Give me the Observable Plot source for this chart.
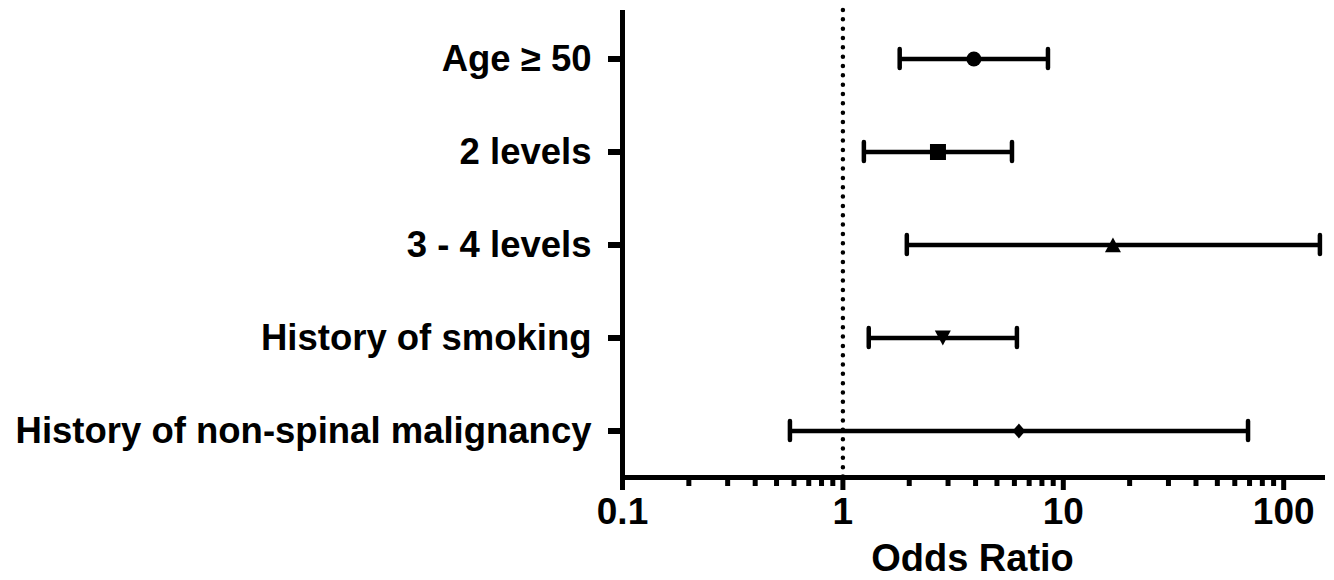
<!DOCTYPE html>
<html>
<head>
<meta charset="utf-8">
<script src="https://cdn.jsdelivr.net/npm/d3@7"></script>
<script src="https://cdn.jsdelivr.net/npm/@observablehq/plot@0.6"></script>
<style>
  html, body { margin: 0; padding: 0; background: #fff; }
  #chart svg { font-family: "Liberation Sans", Arial, sans-serif; }
</style>
</head>
<body>
<div id="chart"></div>
<script>
const labels = ["Age ≥ 50", "2 levels", "3 - 4 levels", "History of smoking", "History of non-spinal malignancy"];
const oddsRatio = [3.93, 2.70, 16.8, 2.84, 6.29];
const lower = [1.81, 1.245, 1.95, 1.31, 0.575];
const upper = [8.52, 5.85, 146, 6.16, 68.9];
const symbolNames = ["circle", "square", "triangle", "triangleDown", "diamond"];
const majorTicks = [0.1, 1, 10, 100];
const minorTicks = [0.2, 0.3, 0.4, 0.5, 0.6, 0.7, 0.8, 0.9, 2, 3, 4, 5, 6, 7, 8, 9, 20, 30, 40, 50, 60, 70, 80, 90];
const xLabel = "Odds Ratio";

const rows = labels.map((label, i) => ({label, or: oddsRatio[i], lo: lower[i], hi: upper[i], sym: symbolNames[i]}));

const R = size => Math.sqrt(size / Math.PI);
const customSymbols = {
  circle: {draw(ctx, size) { const r = R(size); ctx.moveTo(r, 0); ctx.arc(0, 0, r, 0, 2 * Math.PI); ctx.closePath(); }},
  square: {draw(ctx, size) { const r = R(size); ctx.rect(-r, -r, 2 * r, 2 * r); }},
  triangle: {draw(ctx, size) { const r = R(size); ctx.moveTo(0, -r * 0.95); ctx.lineTo(r, r * 0.9); ctx.lineTo(-r, r * 0.9); ctx.closePath(); }},
  triangleDown: {draw(ctx, size) { const r = R(size); ctx.moveTo(-r, -r * 0.95); ctx.lineTo(r, -r * 0.95); ctx.lineTo(0, r * 0.95); ctx.closePath(); }},
  diamond: {draw(ctx, size) { const r = R(size); ctx.moveTo(0, -r); ctx.lineTo(r * 0.85, 0); ctx.lineTo(0, r); ctx.lineTo(-r * 0.85, 0); ctx.closePath(); }}
};
const symbolSize = {circle: 7.5, square: 8, triangle: 8, triangleDown: 8, diamond: 7.5};

const font = {fontSize: 36.5, fontWeight: "bold"};

const chart = Plot.plot({
  width: 1334,
  height: 580,
  marginLeft: 622,
  marginRight: 12,
  marginTop: 12,
  marginBottom: 103,
  style: {fontFamily: "'Liberation Sans', Arial, sans-serif", color: "#000", background: "#fff"},
  x: {type: "log", domain: [0.1, 150]},
  y: {type: "band", domain: labels, padding: 0},
  marks: [
    Plot.ruleX([1], {strokeWidth: 4.5, strokeDasharray: "0 9.33", strokeLinecap: "round", insetTop: -2}),
    Plot.ruleY(rows, {y: "label", x1: "lo", x2: "hi", strokeWidth: 4.5}),
    Plot.tickX(rows, {x: "lo", y: "label", strokeWidth: 4.5, strokeLinecap: "round", insetTop: 37, insetBottom: 37}),
    Plot.tickX(rows, {x: "hi", y: "label", strokeWidth: 4.5, strokeLinecap: "round", insetTop: 37, insetBottom: 37}),
    ...symbolNames.map(s => Plot.dot(rows.filter(d => d.sym === s), {x: "or", y: "label", symbol: customSymbols[s], r: symbolSize[s], fill: "#000", stroke: null})),
    Plot.frame({anchor: "left", strokeWidth: 5}),
    Plot.frame({anchor: "bottom", strokeWidth: 5}),
    Plot.axisY({tickSize: 14, strokeWidth: 6, tickPadding: 17, label: null, ...font}),
    Plot.axisX({ticks: minorTicks, tickSize: 9, strokeWidth: 5, tickFormat: null, text: null, label: null}),
    Plot.axisX({ticks: majorTicks, tickSize: 13, strokeWidth: 5, tickPadding: 7, tickFormat: d => String(d), label: null, ...font, fontSize: 37}),
    Plot.text([xLabel], {frameAnchor: "bottom", dy: 93, ...font, fontSize: 38, text: d => d})
  ]
});
document.getElementById("chart").appendChild(chart);
</script>
</body>
</html>
